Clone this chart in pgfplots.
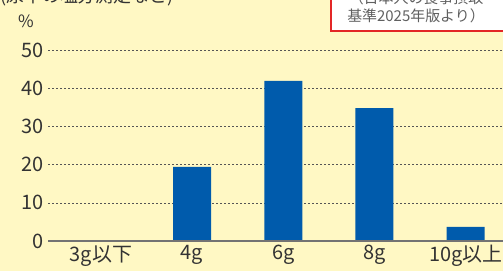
\documentclass[border=0pt]{standalone}
\usepackage{fontspec}
\setmainfont{Noto Sans CJK JP}
\usepackage{pgfplots}
\pgfplotsset{compat=1.18}
\definecolor{bg}{HTML}{FFF8C4}
\definecolor{barblue}{HTML}{005BAC}
\definecolor{txt}{HTML}{333333}
\definecolor{gridc}{HTML}{555555}
\definecolor{boxred}{HTML}{E32626}
\begin{document}
\begin{tikzpicture}[x=1bp,y=1bp]
\clip (0,0) rectangle (503,271);
\fill[bg] (0,0) rectangle (503,271);
\begin{axis}[
  at={(48bp,30bp)}, anchor=south west,
  scale only axis, width=455bp, height=191bp,
  xmin=-0.58, xmax=4.41, ymin=0, ymax=50,
  clip=false,
  axis line style={draw=none},
  major tick length=0pt,
  xtick={0,1,2,3,4},
  xticklabels={3g以下,4g,6g,8g,10g以上},
  ytick={0,10,20,30,40,50},
  ymajorgrids, grid style={gridc, line width=0.6bp, dash pattern=on 2bp off 2bp},
  /pgf/number format/assume math mode=true,
  tick label style={font=\fontsize{20}{22}\selectfont, text=txt},
  yticklabel style={xshift=-1bp},
  xticklabel style={yshift=-1bp},
]
\addplot[ybar, fill=barblue, draw=none, bar width=38bp] coordinates {(0,0) (1,19.4) (2,41.9) (3,34.8) (4,3.7)};
\draw[color=gray!90!black, line width=1.5bp] (axis cs:-0.58,0) -- (axis cs:4.41,0);
\end{axis}
\node[anchor=base west, inner sep=0, text=txt, font=\fontsize{18}{20}\selectfont] at (0,269) {(尿中の塩分測定など)};
\node[anchor=base west, inner sep=0, text=txt, font=\fontsize{17}{19}\selectfont] at (18,244) {\%};
\filldraw[fill=white, draw=boxred, line width=2bp] (331,240) rectangle (530,300);
\node[anchor=base, inner sep=0, text=gray!75!black, font=\fontsize{15}{17}\selectfont] at (416,268) {（日本人の食事摂取};
\node[anchor=base, inner sep=0, text=gray!75!black, font=\fontsize{15}{17}\selectfont] at (416,250) {基準2025年版より）};
\end{tikzpicture}
\end{document}
